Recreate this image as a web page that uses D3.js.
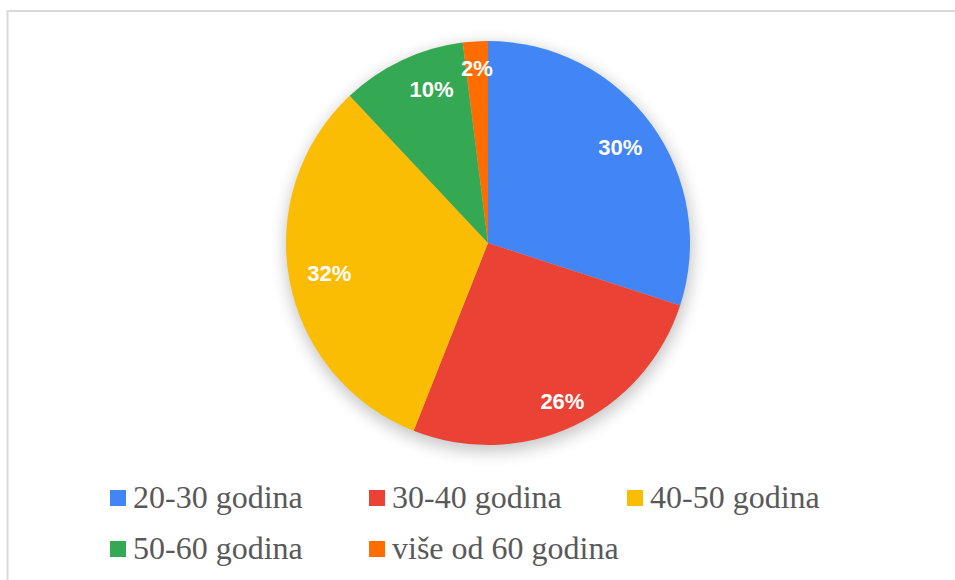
<!DOCTYPE html>
<html>
<head>
<meta charset="utf-8">
<script src="https://cdn.jsdelivr.net/npm/d3@7"></script>
<style>
  body { margin: 0; background: #fff; }
</style>
</head>
<body>
<svg id="chart"></svg>
<script>
// Data
const categories = ['20-30 godina', '30-40 godina', '40-50 godina', '50-60 godina', 'više od 60 godina'];
const values = [30, 26, 32, 10, 2];
const colors = ['#4285f4', '#ea4335', '#fbbc04', '#34a853', '#ff6d01'];

const width = 955, height = 580;
const cx = 488, cy = 243, radius = 202;

// how far out each percentage label sits (fraction of radius, angle nudge in deg)
const labelRadius = [0.81, 0.865, 0.8, 0.81, 0.87];
const labelNudge = [0, 0, 0, 5, 0];

const svg = d3.select('#chart')
    .attr('width', width)
    .attr('height', height);

// outer frame (only top and left edges fall inside the picture)
svg.append('rect')
    .attr('x', 7.5).attr('y', 11)
    .attr('width', 1000).attr('height', 700)
    .attr('fill', 'none')
    .attr('stroke', '#dadada')
    .attr('stroke-width', 2);

// soft shadow under the pie
const defs = svg.append('defs');
const f = defs.append('filter').attr('id', 'shadow')
    .attr('x', '-30%').attr('y', '-30%').attr('width', '160%').attr('height', '160%');
f.append('feGaussianBlur').attr('stdDeviation', 8);

const chart = svg.append('g')
    .attr('transform', `translate(${cx},${cy})`);

chart.append('circle')
    .attr('cx', 1).attr('cy', 5)
    .attr('r', radius + 2)
    .attr('fill', '#000')
    .attr('opacity', 0.22)
    .attr('filter', 'url(#shadow)');

const data = categories.map((c, i) => ({ key: c, value: values[i], color: colors[i], i }));

const pie = d3.pie().sort(null).value(d => d.value);
const arcs = pie(data);

const arc = d3.arc().innerRadius(0).outerRadius(radius);

chart.selectAll('.slice')
    .data(arcs)
    .join('path')
    .attr('class', 'slice')
    .attr('d', arc)
    .attr('fill', d => d.data.color);

chart.selectAll('.lbl')
    .data(arcs)
    .join('text')
    .attr('class', 'lbl')
    .attr('transform', d => {
        const a = (d.startAngle + d.endAngle) / 2 + labelNudge[d.data.i] * Math.PI / 180;
        const r = radius * labelRadius[d.data.i];
        return `translate(${Math.sin(a) * r},${-Math.cos(a) * r})`;
    })
    .attr('text-anchor', 'middle')
    .attr('dy', '0.36em')
    .attr('fill', '#fff')
    .attr('font-family', 'Liberation Sans, Arial, sans-serif')
    .attr('font-weight', 'bold')
    .attr('font-size', '22px')
    .text(d => d.data.value + '%');

// legend
const legendPos = [[110, 0], [369, 0], [627, 0], [110, 1], [369, 1]];
const legend = svg.append('g');
const items = legend.selectAll('.item')
    .data(data)
    .join('g')
    .attr('class', 'item')
    .attr('transform', (d, i) => `translate(${legendPos[i][0]},${490 + legendPos[i][1] * 51})`);

items.append('rect')
    .attr('width', 16).attr('height', 16)
    .attr('fill', d => d.color);

items.append('text')
    .attr('x', 23)
    .attr('y', 18)
    .attr('fill', '#595959')
    .attr('font-family', 'Liberation Serif, Times New Roman, serif')
    .attr('font-size', '32px')
    .text(d => d.key);
</script>
</body>
</html>
